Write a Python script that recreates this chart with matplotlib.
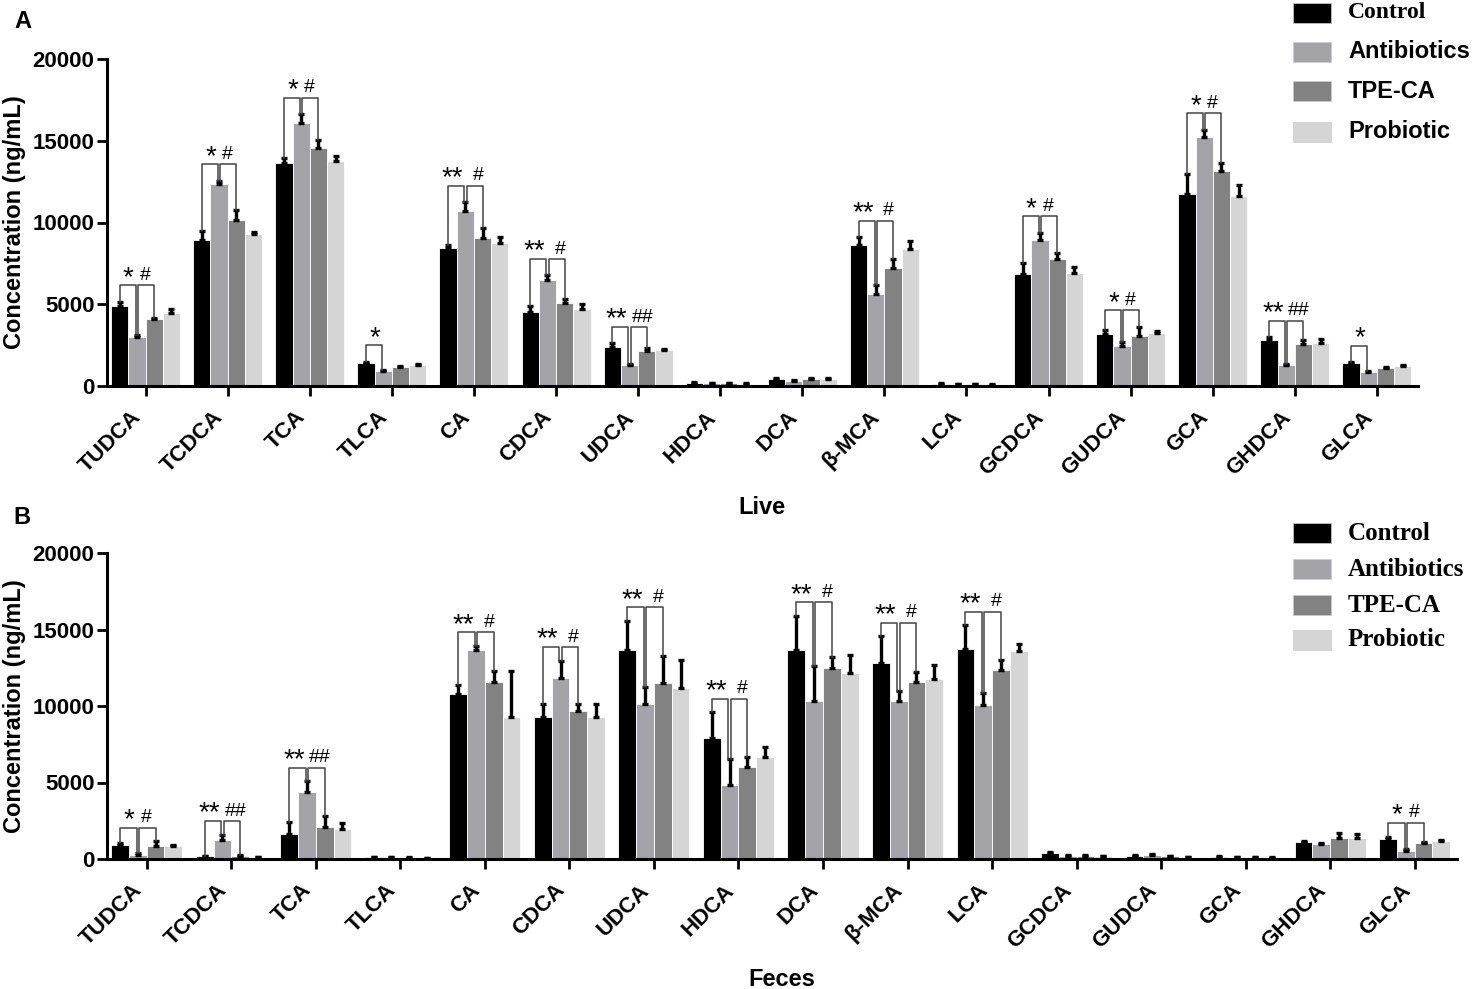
import matplotlib
matplotlib.use("Agg")
import matplotlib.pyplot as plt
from matplotlib.patches import Rectangle
import matplotlib.transforms as mtransforms
import numpy as np

categories = ["TUDCA", "TCDCA", "TCA", "TLCA", "CA", "CDCA", "UDCA", "HDCA", "DCA",
              "β-MCA", "LCA", "GCDCA", "GUDCA", "GCA", "GHDCA", "GLCA"]
groups = ["Control", "Antibiotics", "TPE-CA", "Probiotic"]
colors = ["#000000", "#a3a3a8", "#828282", "#d5d5d5"]

# Panel A: Live
live_control = [4900, 8950, 13620, 1380, 8420, 4550, 2360, 200, 450, 8600, 140, 6850, 3190, 11750, 2800, 1380]
live_control_err = [260, 500, 330, 100, 180, 330, 240, 30, 40, 500, 20, 690, 220, 1220, 200, 60]
live_antibiotics = [2970, 12380, 16080, 930, 10690, 6460, 1260, 190, 320, 5650, 120, 8900, 2460, 15240, 1280, 870]
live_antibiotics_err = [150, 180, 550, 60, 550, 300, 60, 20, 60, 500, 20, 470, 240, 430, 60, 40]
live_tpe = [4070, 10180, 14570, 1180, 9070, 5080, 2150, 170, 430, 7200, 120, 7760, 3030, 13170, 2540, 1120]
live_tpe_err = [60, 590, 500, 40, 570, 220, 200, 20, 40, 550, 20, 370, 590, 450, 260, 40]
live_probiotic = [4490, 9270, 13780, 1260, 8740, 4700, 2190, 150, 430, 8370, 80, 6930, 3230, 11600, 2640, 1240]
live_probiotic_err = [250, 140, 260, 60, 400, 300, 60, 20, 40, 490, 20, 350, 140, 690, 260, 50]
live_sig1 = ["*", "*", "*", "*", "**", "**", "**", "", "", "**", "", "*", "*", "*", "**", "*"]
live_sig2 = ["#", "#", "#", "", "#", "#", "##", "", "", "#", "", "#", "#", "#", "##", ""]

# Panel B: Feces
feces_control = [890, 170, 1630, 110, 10770, 9250, 13640, 7930, 13640, 12790, 13750, 390, 220, 150, 1090, 1300]
feces_control_err = [150, 30, 780, 20, 590, 850, 1910, 1650, 2240, 1760, 1520, 60, 30, 20, 60, 170]
feces_antibiotics = [280, 1260, 4370, 110, 13640, 11860, 10120, 4840, 10310, 10310, 10050, 220, 240, 130, 1000, 500]
feces_antibiotics_err = [100, 330, 700, 20, 280, 1090, 1090, 1670, 2300, 670, 830, 30, 90, 20, 60, 150]
feces_tpe = [870, 170, 2090, 90, 11600, 9660, 11510, 6040, 12490, 11570, 12330, 200, 170, 130, 1370, 1040]
feces_tpe_err = [280, 70, 700, 20, 670, 500, 1760, 650, 700, 650, 700, 30, 30, 20, 330, 90]
feces_probiotic = [820, 130, 1980, 65, 9290, 9250, 11200, 6690, 12180, 11790, 13570, 170, 110, 90, 1370, 1190]
feces_probiotic_err = [100, 30, 370, 20, 2980, 850, 1820, 650, 1170, 870, 480, 30, 30, 20, 280, 70]
feces_sig1 = ["*", "**", "**", "", "**", "**", "**", "**", "**", "**", "**", "", "", "", "", "*"]
feces_sig2 = ["#", "##", "##", "", "#", "#", "#", "#", "#", "#", "#", "", "", "", "", "#"]

yticks = [0, 5000, 10000, 15000, 20000]

W, H = 1476, 989
fig = plt.figure(figsize=(W / 100, H / 100), dpi=100)
SANS = "Liberation Sans"
SERIF = "Liberation Serif"


def fx(px):
    return px / W


def fy(py):
    return 1 - py / H


def draw_panel(ax, series, errs, sig1, sig2, bracket_off):
    x = np.arange(len(categories))
    bw = 0.21
    offsets = [-1.5, -0.5, 0.5, 1.5]
    tops = []
    for vals, err, col, off in zip(series, errs, colors, offsets):
        ax.bar(x + off * bw, vals, bw, color=col, edgecolor="white", linewidth=0.6, zorder=2)
        ax.errorbar(x + off * bw, vals, yerr=[np.zeros(len(vals)), err], fmt="none",
                    ecolor="black", elinewidth=2.4, capsize=2.5, capthick=2.4, zorder=3)
        tops.append(np.array(vals) + np.array(err))
    for i in range(len(categories)):
        if not sig1[i] and not sig2[i]:
            continue
        h = max(tops[0][i], tops[1][i], tops[2][i]) + bracket_off
        xc = x[i] + offsets[0] * bw
        xa = x[i] + offsets[1] * bw
        xt = x[i] + offsets[2] * bw
        crowded = len(sig1[i]) > 1 or len(sig2[i]) > 1
        if sig1[i]:
            ax.plot([xc, xc, xa - 0.015, xa - 0.015], [tops[0][i], h, h, tops[1][i]],
                    color="#444444", lw=1.1, zorder=4)
            ax.annotate(sig1[i], ((xc + xa) / 2, h), xytext=(-3 if crowded else 0, -4),
                        textcoords="offset points", ha="center", va="bottom",
                        fontsize=20, family=SANS, color="black", zorder=5)
        if sig2[i]:
            ax.plot([xa + 0.015, xa + 0.015, xt, xt], [tops[1][i], h, h, tops[2][i]],
                    color="#444444", lw=1.1, zorder=4)
            ax.annotate(sig2[i], ((xa + xt) / 2, h), xytext=(3 if crowded else 0, 1),
                        textcoords="offset points", ha="center", va="bottom",
                        fontsize=14, family=SANS, color="black", zorder=5)
    ax.set_ylim(0, 20000)
    ax.set_xlim(-0.47, 15.5)
    ax.set_yticks(yticks)
    ax.set_yticklabels([str(v) for v in yticks], fontsize=16, fontweight="bold", family=SANS)
    ax.set_xticks(x)
    ax.set_xticklabels(categories, rotation=45, ha="right", fontsize=16,
                       fontweight="bold", family=SANS)
    offset = mtransforms.ScaledTranslation(6 / 100, 0, fig.dpi_scale_trans)
    for lab in ax.get_xticklabels():
        lab.set_transform(lab.get_transform() + offset)
    for s in ["top", "right"]:
        ax.spines[s].set_visible(False)
    for s in ["left", "bottom"]:
        ax.spines[s].set_linewidth(2.2)
    ax.tick_params(axis="both", width=2, length=7, color="black")
    ax.tick_params(axis="x", pad=8)
    ax.tick_params(axis="y", pad=2)


ax1 = fig.add_axes([fx(107), fy(386), fx(1418 - 107), (386 - 59) / H])
draw_panel(ax1,
           [live_control, live_antibiotics, live_tpe, live_probiotic],
           [live_control_err, live_antibiotics_err, live_tpe_err, live_probiotic_err],
           live_sig1, live_sig2, 1000)

ax2 = fig.add_axes([fx(107), fy(859), fx(1457 - 107), (859 - 553) / H])
draw_panel(ax2,
           [feces_control, feces_antibiotics, feces_tpe, feces_probiotic],
           [feces_control_err, feces_antibiotics_err, feces_tpe_err, feces_probiotic_err],
           feces_sig1, feces_sig2, 900)

# axis titles and labels
fig.text(fx(762), fy(507), "Live", ha="center", va="center", fontsize=17,
         fontweight="bold", family=SANS)
fig.text(fx(782), fy(979), "Feces", ha="center", va="center", fontsize=17,
         fontweight="bold", family=SANS)
fig.text(fx(15), fy(222), "Concentration (ng/mL)", rotation=90, ha="center", va="center",
         fontsize=17, fontweight="bold", family=SANS)
fig.text(fx(15), fy(706), "Concentration (ng/mL)", rotation=90, ha="center", va="center",
         fontsize=17, fontweight="bold", family=SANS)
fig.text(fx(23), fy(22), "A", ha="center", va="center", fontsize=17, fontweight="bold", family=SANS)
fig.text(fx(22), fy(518), "B", ha="center", va="center", fontsize=17, fontweight="bold", family=SANS)


def legend(rows, fams, size):
    for (g, col, yc, fam) in zip(groups, colors, rows, fams):
        fig.add_artist(Rectangle((fx(1293), fy(yc + 10)), fx(38), 20 / H,
                                 transform=fig.transFigure, facecolor=col,
                                 edgecolor="#cccccc", linewidth=0.5))
        fig.text(fx(1348), fy(yc), g, ha="left", va="center", fontsize=size,
                 fontweight="bold", family=fam)


legend([13, 52, 91, 132], [SERIF, SANS, SANS, SANS], 17)
legend([533, 569, 605, 640], [SERIF, SERIF, SERIF, SERIF], 18)

fig.savefig("out.png", dpi=100)
